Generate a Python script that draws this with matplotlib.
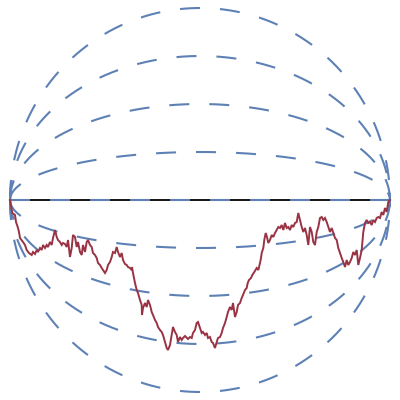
import numpy as np
import matplotlib
matplotlib.use("Agg")
import matplotlib.pyplot as plt

# Brownian-bridge-like path (time, value)
time = [10, 12.3, 15, 16, 17.7, 19, 20, 23, 25, 26.7, 29, 31.7, 33, 35, 36.7, 38, 40, 41.7, 43, 45,
        46.7, 48, 50, 51.7, 53, 55, 56.7, 58, 60, 61.7, 63, 65, 66.7, 68, 70, 71.7, 73, 75, 76.7, 78,
        80, 81.7, 83, 85, 86.7, 88, 90, 91.7, 93, 95, 96.7, 98, 100, 101.7, 103, 105, 106.7, 108, 110, 111.7,
        113, 115, 116.7, 118, 120, 121.7, 123, 125, 126.7, 128, 130, 131.7, 132, 133, 134, 135, 136.7, 138, 140, 141.7,
        142, 143, 145, 146.7, 148, 150, 151.7, 153, 155, 156.7, 158, 160, 161.7, 163, 165, 166.7, 168, 170, 171.7, 173,
        175, 176.7, 178, 180, 181.7, 183, 185, 188, 190, 191.7, 193, 195, 196.7, 198, 200, 201.7, 203, 205, 206.7, 208,
        210, 211.7, 213, 215, 216.7, 218, 220, 221.7, 223, 225, 226.7, 228, 230, 231.7, 233, 235, 236.7, 238, 240, 241.7,
        243, 245, 246.7, 247.7, 249, 251, 252.3, 254.3, 256.7, 258.3, 260, 261, 261.7, 263.3, 264.3, 265.7, 267, 268.3, 270, 271.7,
        273.3, 275, 276.7, 278.3, 280, 281.7, 283.3, 285, 286.7, 288.3, 290, 291.7, 293.3, 295, 296.7, 298.3, 300, 301.7, 303.3, 305,
        306.7, 308.3, 310, 311.7, 313.3, 315, 316.7, 318.3, 320, 321.7, 323.3, 325, 326.7, 328.3, 330, 331.7, 333.3, 335, 336.7, 338.3,
        340, 341.7, 343.3, 345, 346.7, 348.3, 350, 351.7, 353.3, 355, 356.7, 358.3, 360, 361.7, 363.3, 365, 366.7, 368.3, 370, 371.7,
        373.3, 375, 376.7, 378.3, 380, 381.7, 383.3, 385, 386.7, 388.3, 390]
value = [0, -13, -15, -22, -27, -32, -38, -42, -45, -50, -53, -55, -52, -54, -50, -52, -48, -50, -45, -48,
         -45, -47, -42, -45, -38, -30, -37, -40, -42, -45, -43, -44, -47, -40, -57, -48, -35, -37, -47, -42,
         -52, -55, -45, -52, -42, -40, -45, -47, -53, -55, -58, -63, -65, -68, -70, -73, -70, -65, -62, -57,
         -52, -53, -47, -52, -57, -53, -60, -64, -65, -67, -68, -70, -67, -73, -78, -83, -90, -93, -100, -105,
         -115, -108, -103, -107, -100, -105, -112, -115, -120, -123, -127, -130, -132, -135, -142, -148, -150, -145, -135, -127,
         -132, -135, -142, -137, -140, -138, -136, -139, -137, -138, -133, -130, -123, -122, -128, -133, -132, -135, -133, -138,
         -137, -142, -143, -148, -142, -138, -137, -133, -128, -123, -117, -112, -107, -110, -103, -117, -112, -105, -103, -98,
         -95, -90, -88, -83, -80, -78, -75, -72, -68, -70, -63, -58, -53, -48, -40, -33, -37, -43, -40, -35,
         -37, -33, -30, -27, -28, -25, -30, -23, -28, -27, -30, -25, -27, -23, -22, -13, -20, -27, -32, -28,
         -35, -45, -27, -32, -42, -45, -32, -27, -18, -17, -20, -18, -22, -27, -32, -28, -33, -38, -40, -48,
         -53, -58, -62, -67, -60, -65, -62, -58, -52, -55, -50, -65, -58, -50, -32, -23, -20, -23, -22, -25,
         -20, -22, -18, -17, -18, -12, -15, -8, -12, -2, 0]

envelope_k = [-4, -3, -2, -1, 0, 1, 2, 3, 4]
t_start, t_end = 10, 390
env_scale = 48 / 190

fig = plt.figure(figsize=(4, 4), dpi=100)
ax = fig.add_axes([0, 0, 1, 1])
ax.set_xlim(0, 400)
ax.set_ylim(-200, 200)
ax.axis("off")

blue = "#5E81B5"
red = "#993344"

ax.plot([t_start, t_end], [0, 0], color="black", lw=1.3, zorder=1, solid_capstyle="butt")

tt = np.linspace(t_start, t_end, 2001)
root = np.sqrt(np.clip((tt - t_start) * (t_end - tt), 0, None))
for k in envelope_k:
    ax.plot(tt, k * env_scale * root, color=blue, lw=1.5, zorder=2,
            linestyle=(0, (9.6, 9.6)), dash_capstyle="butt")

ax.plot(time, value, color=red, lw=1.4, zorder=3, solid_joinstyle="miter")

fig.savefig("out.png", dpi=100)
